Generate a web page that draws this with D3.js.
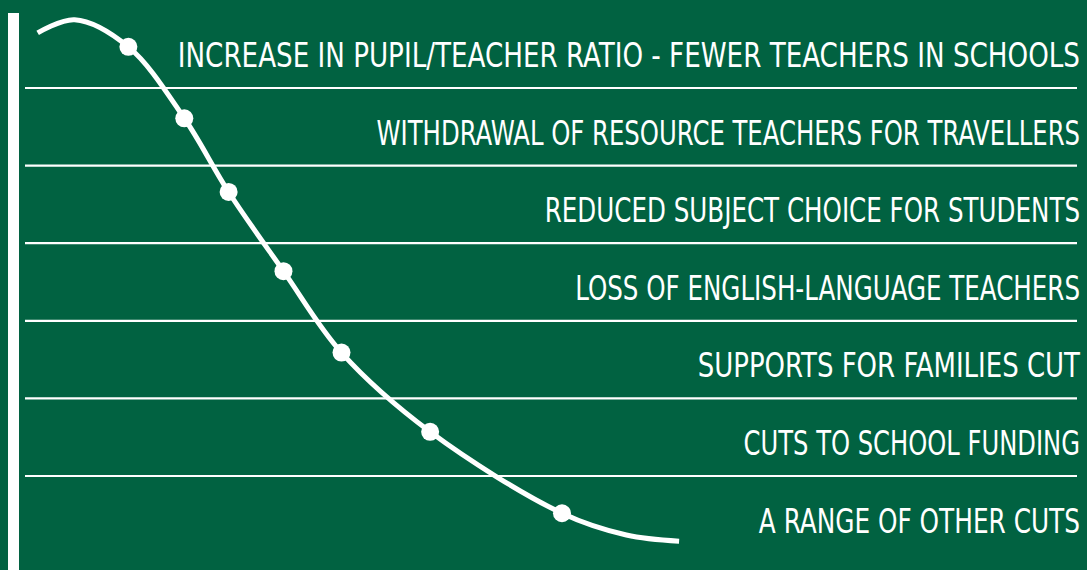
<!DOCTYPE html>
<html>
<head>
<meta charset="utf-8">
<script src="https://cdn.jsdelivr.net/npm/d3@7"></script>
<style>
  html, body { margin: 0; padding: 0; background: #016241; }
  svg { display: block; }
</style>
</head>
<body>
<svg id="chart" width="1087" height="570"></svg>
<script>
// ---- data ----
const categories = [
  "INCREASE IN PUPIL/TEACHER RATIO - FEWER TEACHERS IN SCHOOLS",
  "WITHDRAWAL OF RESOURCE TEACHERS FOR TRAVELLERS",
  "REDUCED SUBJECT CHOICE FOR STUDENTS",
  "LOSS OF ENGLISH-LANGUAGE TEACHERS",
  "SUPPORTS FOR FAMILIES CUT",
  "CUTS TO SCHOOL FUNDING",
  "A RANGE OF OTHER CUTS"
];
// marker points on the decline curve (x: 0-100 horizontal position, y: row units 0-7)
const markerX = [9.8, 15.1, 19.3, 24.5, 30.0, 38.4, 50.9];
const markerY = [0.47, 1.39, 2.34, 3.36, 4.41, 5.43, 6.48];
// full curve path points (start, crest, markers, tail)
const curveX = [1.2, 4.7, 9.8, 15.1, 19.3, 24.5, 30.0, 38.4, 50.9, 57.0, 62.0];
const curveY = [0.29, 0.12, 0.47, 1.39, 2.34, 3.36, 4.41, 5.43, 6.48, 6.76, 6.84];

// ---- layout ----
const W = 1087, H = 570;
const svg = d3.select("#chart");
const bg = "#016241";
svg.append("rect").attr("width", W).attr("height", H).attr("fill", bg);

const x = d3.scaleLinear().domain([0, 100]).range([25, 1080]);
const y = d3.scaleLinear().domain([0, categories.length]).range([10.4, 553.6]);

// left vertical bar
svg.append("rect")
  .attr("x", 8).attr("y", 13).attr("width", 11).attr("height", H - 13)
  .attr("fill", "#fff");

// row separator lines
const seps = d3.range(1, categories.length);
svg.append("g").selectAll("line").data(seps).join("line")
  .attr("x1", x(0)).attr("x2", 1077)
  .attr("y1", d => y(d)).attr("y2", d => y(d))
  .attr("stroke", "#fff").attr("stroke-width", 2.2);

// labels (condensed horizontally to mimic the narrow chalk lettering)
const charAdvance = 15.3;
const labelGroups = svg.append("g").selectAll("g").data(categories).join("g");
labelGroups.append("text")
  .attr("x", 0).attr("y", 0)
  .attr("text-anchor", "end")
  .attr("fill", "#fff")
  .attr("font-family", "'Liberation Sans Narrow', 'DejaVu Sans Condensed', sans-serif")
  .attr("font-size", 34)
  .text(d => d);
labelGroups.each(function(d, i) {
  const t = d3.select(this).select("text").node();
  const natural = t.getComputedTextLength();
  const target = d.length * charAdvance;
  const sx = Math.min(1, target / natural);
  d3.select(this).attr("transform", `translate(1080,${y(i + 1) - 21}) scale(${sx.toFixed(4)},1)`);
});

// curve
const pts = curveX.map((v, i) => [x(v), y(curveY[i])]);
const line = d3.line().curve(d3.curveCatmullRom.alpha(0.5));
svg.append("path")
  .attr("d", line(pts))
  .attr("fill", "none")
  .attr("stroke", "#fff")
  .attr("stroke-width", 5);

// markers
svg.append("g").selectAll("circle").data(markerX).join("circle")
  .attr("cx", d => x(d))
  .attr("cy", (d, i) => y(markerY[i]))
  .attr("r", 9)
  .attr("fill", "#fff");
</script>
</body>
</html>
